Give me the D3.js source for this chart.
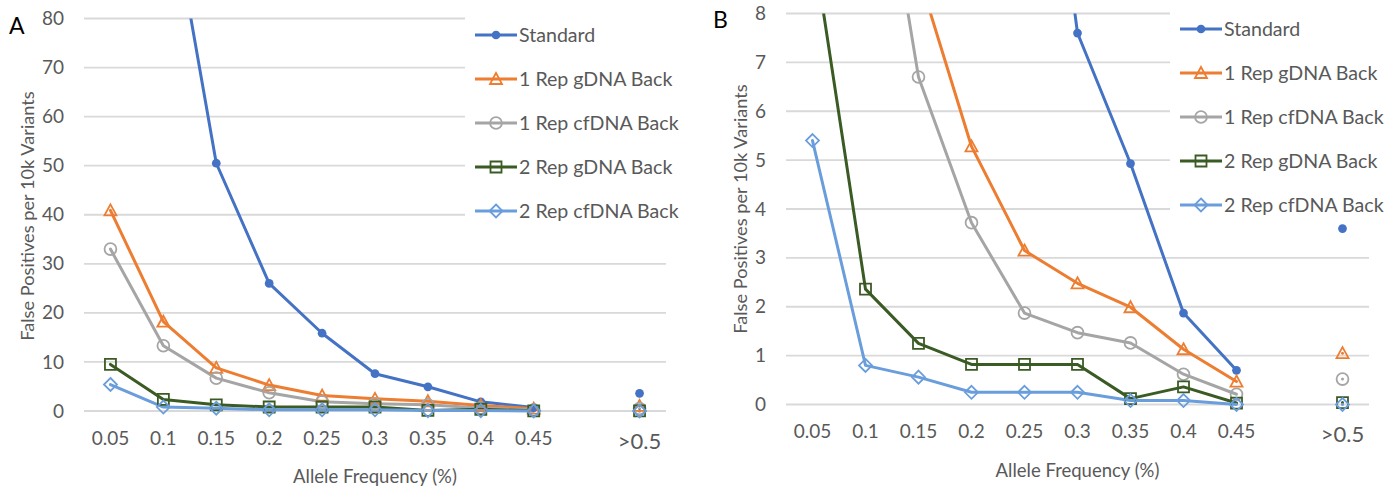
<!DOCTYPE html>
<html>

<head>
  <title>False Positives per Allele Frequency</title>
  <script type="text/javascript" src="https://cdn.jsdelivr.net/npm/d3@7"></script>
  <style>
    body {
      margin: 0;
      background-color: #ffffff;
    }

    svg {
      display: block;
      font-family: Lato, "Open Sans", sans-serif;
    }

    .grid line {
      stroke: #d9d9d9;
      stroke-width: 1.8px;
    }

    .tick text {
      fill: #595959;
    }

    .ytitle,
    .xtitle,
    .legend text {
      fill: #595959;
    }
  </style>
</head>

<body>
  <script type="text/javascript">

    // Kategorier (tom plads mellem 0.45 og >0.5)
    const categories = ["0.05", "0.1", "0.15", "0.2", "0.25", "0.3", "0.35", "0.4", "0.45", "", ">0.5"];

    // Serier (null = intet punkt)
    const standard = [230, 112, 50.5, 26, 15.85, 7.6, 4.93, 1.87, 0.7, null, 3.6];
    const rep1gDNA = [40.9, 18.2, 8.8, 5.28, 3.15, 2.48, 1.99, 1.13, 0.47, null, 1.05];
    const rep1cfDNA = [33.0, 13.3, 6.7, 3.72, 1.87, 1.47, 1.26, 0.62, 0.21, null, 0.52];
    const rep2gDNA = [9.5, 2.36, 1.25, 0.82, 0.82, 0.82, 0.12, 0.36, 0.03, null, 0.04];
    const rep2cfDNA = [5.4, 0.8, 0.56, 0.25, 0.25, 0.25, 0.08, 0.08, 0.0, null, 0.0];

    const seriesNames = ["Standard", "1 Rep gDNA Back", "1 Rep cfDNA Back", "2 Rep gDNA Back", "2 Rep cfDNA Back"];

    // Y-akse ticks for de to paneler
    const ticksA = [0, 10, 20, 30, 40, 50, 60, 70, 80];
    const ticksB = [0, 1, 2, 3, 4, 5, 6, 7, 8];

    // Udseende pr. serie
    const series = [
      { name: seriesNames[0], values: standard, color: "#4472c4", marker: "dot" },
      { name: seriesNames[1], values: rep1gDNA, color: "#ed7d31", marker: "triangle" },
      { name: seriesNames[2], values: rep1cfDNA, color: "#a5a5a5", marker: "circle" },
      { name: seriesNames[3], values: rep2gDNA, color: "#3b5b24", marker: "square" },
      { name: seriesNames[4], values: rep2cfDNA, color: "#6a9ddb", marker: "diamond" }
    ];

    const w = 1398;
    const h = 488;

    const svg = d3.select("body")
      .append("svg")
      .attr("width", w)
      .attr("height", h);

    // Markør-stier
    function markerPath(type) {
      if (type === "dot") return d3.symbol().type(d3.symbolCircle).size(60)();
      if (type === "circle") return d3.symbol().type(d3.symbolCircle).size(110)();
      if (type === "square") return "M-5.5,-5.5H5.5V5.5H-5.5Z";
      if (type === "triangle") return "M0,-6L6,5H-6Z";
      if (type === "diamond") return "M0,-6.5L6.5,0L0,6.5L-6.5,0Z";
    }

    function drawMarker(sel, s) {
      sel.append("path")
        .attr("d", markerPath(s.marker))
        .attr("fill", s.marker === "dot" ? s.color : "none")
        .attr("stroke", s.color)
        .attr("stroke-width", s.marker === "dot" ? 0 : 1.8);
    }

    function drawPanel(p) {
      const g = svg.append("g");

      const xScale = d3.scaleBand()
        .domain(d3.range(categories.length))
        .range([p.left, p.right])
        .padding(0);

      const yScale = d3.scaleLinear()
        .domain([0, p.ymax])
        .range([p.bottom, p.top]);

      const cx = function (i) {
        return xScale(i) + xScale.bandwidth() / 2;
      };

      // Gitterlinjer
      g.append("g")
        .attr("class", "grid")
        .selectAll("line")
        .data(p.ticks)
        .enter()
        .append("line")
        .attr("x1", p.left)
        .attr("x2", p.right)
        .attr("y1", function (d) { return yScale(d); })
        .attr("y2", function (d) { return yScale(d); });

      // Y-akse (kun tal)
      const yAxis = d3.axisLeft(yScale).tickValues(p.ticks).tickSize(0).tickPadding(0);
      g.append("g")
        .attr("transform", "translate(" + p.yLabelX + ",0)")
        .call(yAxis)
        .call(function (a) { a.select(".domain").remove(); })
        .selectAll("text")
        .attr("font-size", "19px")
        .attr("font-family", "Lato");

      // X-akse (kun tal)
      const xAxis = d3.axisBottom(xScale)
        .tickFormat(function (i) { return categories[i]; })
        .tickSize(0)
        .tickPadding(0);
      g.append("g")
        .attr("transform", "translate(0," + (p.bottom + 27) + ")")
        .call(xAxis)
        .call(function (a) { a.select(".domain").remove(); })
        .selectAll("text")
        .attr("font-size", function (i) { return categories[i] === ">0.5" ? "22px" : "19px"; })
        .attr("y", function (i) { return categories[i] === ">0.5" ? 3 : 0; })
        .attr("dy", "0.35em")
        .attr("font-family", "Lato");

      // Aksetitler
      g.append("text")
        .attr("class", "ytitle")
        .attr("transform", "translate(" + p.yTitleX + "," + p.yTitleY + ") rotate(-90)")
        .attr("text-anchor", "middle")
        .attr("dy", "0.35em")
        .attr("font-size", "18.2px")
        .text("False Positives per 10k Variants");

      g.append("text")
        .attr("class", "xtitle")
        .attr("x", (p.left + p.right) / 2)
        .attr("y", p.bottom + 72)
        .attr("text-anchor", "middle")
        .attr("font-size", "18.5px")
        .text("Allele Frequency (%)");

      // Panel-bogstav
      g.append("text")
        .attr("x", p.letterX)
        .attr("y", p.letterY)
        .attr("font-size", "23px")
        .attr("fill", "#000")
        .text(p.letter);

      // Klip til plot-området
      const clipId = "clip" + p.letter;
      g.append("clipPath")
        .attr("id", clipId)
        .append("rect")
        .attr("x", p.left - 10)
        .attr("y", p.top)
        .attr("width", p.right - p.left + 20)
        .attr("height", p.bottom - p.top + 30);

      const plot = g.append("g").attr("clip-path", "url(#" + clipId + ")");

      const line = d3.line()
        .defined(function (d) { return d !== null; })
        .x(function (d, i) { return cx(i); })
        .y(function (d) { return yScale(d); });

      // Linjer
      series.forEach(function (s) {
        plot.append("path")
          .datum(s.values)
          .attr("fill", "none")
          .attr("stroke", s.color)
          .attr("stroke-width", 3)
          .attr("stroke-linejoin", "round")
          .attr("stroke-linecap", "round")
          .attr("d", line);
      });

      // Markører
      series.forEach(function (s) {
        const pts = s.values
          .map(function (v, i) { return { v: v, i: i }; })
          .filter(function (d) { return d.v !== null && d.v <= p.ymax; });
        plot.selectAll(null)
          .data(pts)
          .enter()
          .append("g")
          .attr("transform", function (d) { return "translate(" + cx(d.i) + "," + yScale(d.v) + ")"; })
          .each(function () { drawMarker(d3.select(this), s); });
      });

      // Forklaring med hvid baggrund
      const leg = g.append("g").attr("class", "legend");
      leg.append("rect")
        .attr("x", p.legX - 10)
        .attr("y", 0)
        .attr("width", p.legW)
        .attr("height", p.legH)
        .attr("fill", "#fff");

      series.forEach(function (s, k) {
        const y = p.legY + k * p.legStep;
        leg.append("line")
          .attr("x1", p.legX)
          .attr("x2", p.legX + 42)
          .attr("y1", y)
          .attr("y2", y)
          .attr("stroke", s.color)
          .attr("stroke-width", 3);
        leg.append("g")
          .attr("transform", "translate(" + (p.legX + 21) + "," + y + ")")
          .call(function (m) { drawMarker(m, s); });
        leg.append("text")
          .attr("x", p.legX + 44)
          .attr("y", y)
          .attr("dy", "0.35em")
          .attr("font-size", "19.6px")
          .text(s.name);
      });
    }

    // Panel A
    drawPanel({
      letter: "A", letterX: 9, letterY: 34,
      left: 84, right: 666, top: 18.5, bottom: 411, ymax: 80, ticks: ticksA,
      yLabelX: 64, yTitleX: 28, yTitleY: 216,
      legX: 475, legY: 35, legStep: 44, legW: 240, legH: 228
    });

    // Panel B
    drawPanel({
      letter: "B", letterX: 713, letterY: 28,
      left: 786, right: 1369, top: 13.5, bottom: 404.5, ymax: 8, ticks: ticksB,
      yLabelX: 766, yTitleX: 741, yTitleY: 209,
      legX: 1180, legY: 29, legStep: 44, legW: 240, legH: 220
    });

  </script>
</body>

</html>
